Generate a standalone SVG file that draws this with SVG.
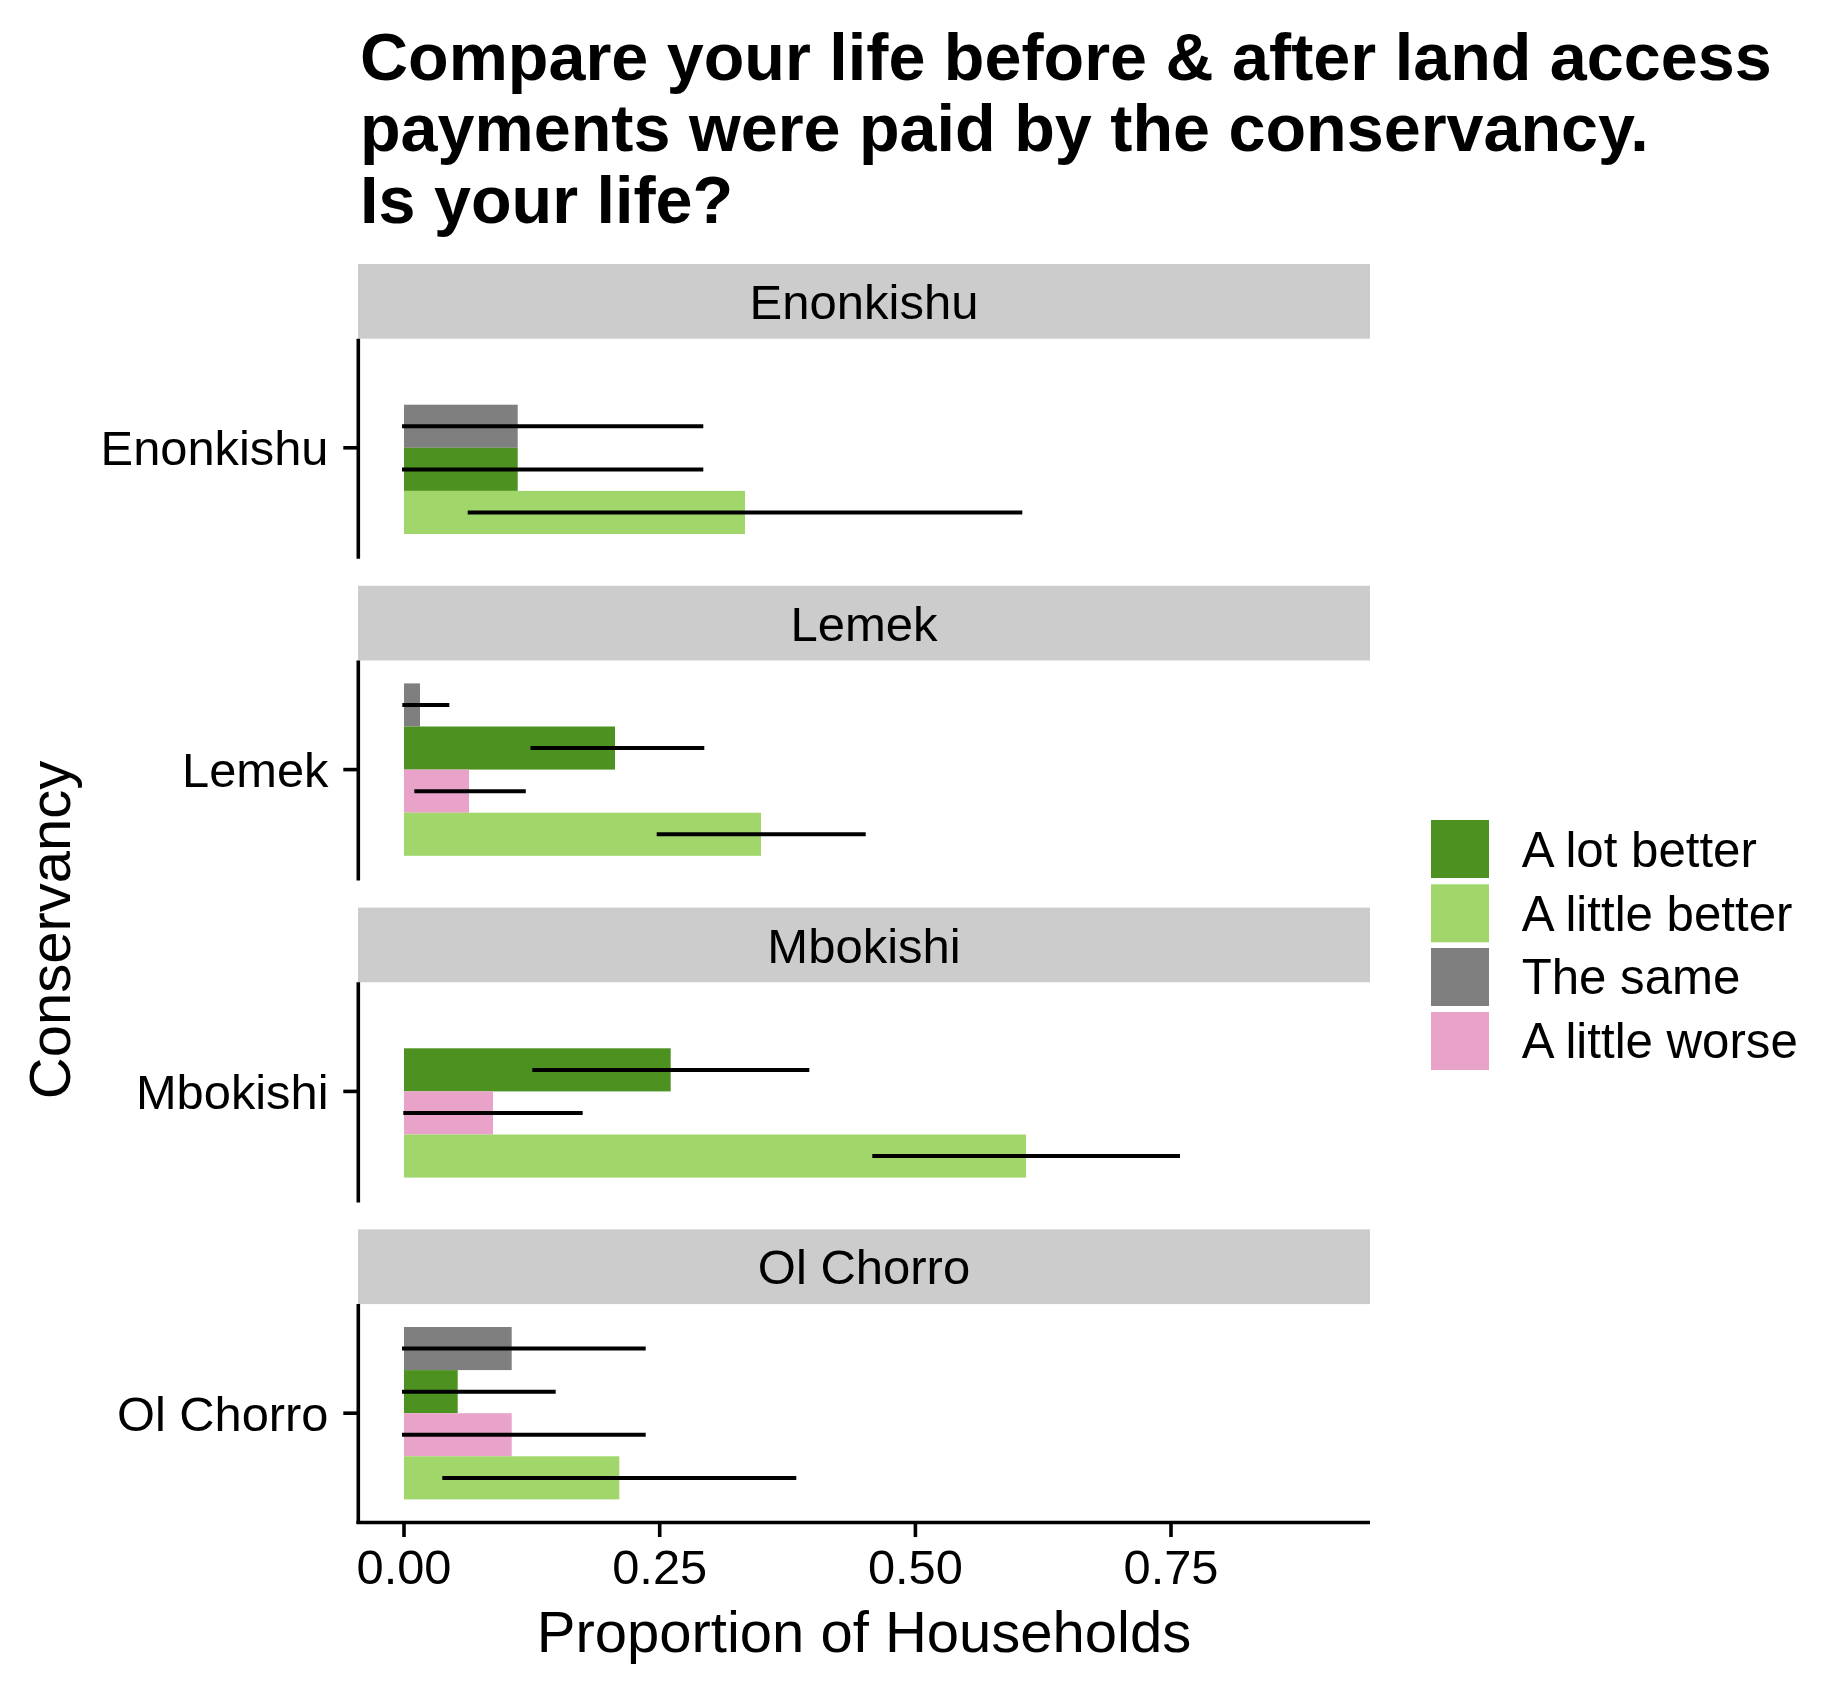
<svg xmlns="http://www.w3.org/2000/svg" width="1831" height="1693" viewBox="0 0 1831 1693">
<style>
text{font-family:"Liberation Sans",Arial,sans-serif;fill:#000}
.title{font-size:66.5px;font-weight:bold}
.ax{font-size:48.8px}
.strip-t{font-size:49px;text-anchor:middle}
.axt{font-size:58px;text-anchor:middle}
.lg{font-size:49.2px}
.strip{fill:#CCCCCC}
.gray{fill:#7F7F7F}
.dg{fill:#4D9221}
.lgn{fill:#A1D76A}
.pk{fill:#E9A3C9}
.axis{stroke:#000;stroke-width:3.6;fill:none}
.err{stroke:#000;stroke-width:4;fill:none}
</style>
<rect width="1831" height="1693" fill="#FFFFFF"/>
<g id="title">
<text class="title" x="360" y="79.5">Compare your life before &amp; after land access</text>
<text class="title" x="360" y="151">payments were paid by the conservancy.</text>
<text class="title" x="360" y="222.5">Is your life?</text>
</g>
<g id="panel-enonkishu">
<rect class="strip" x="358" y="264" width="1012" height="74.7"/>
<text class="strip-t" x="864" y="319">Enonkishu</text>
<rect class="gray" x="404" y="404.7" width="113.7" height="43.1"/>
<rect class="dg" x="404" y="447.8" width="113.7" height="43.1"/>
<rect class="lgn" x="404" y="490.9" width="341" height="43.1"/>
<line class="axis" x1="358.3" y1="338.7" x2="358.3" y2="558.8"/>
<line class="axis" x1="343.3" y1="447.8" x2="358.3" y2="447.8"/>
<text class="ax" x="328.5" y="465.3" text-anchor="end">Enonkishu</text>
</g>
<g id="panel-lemek">
<rect class="strip" x="358" y="585.8" width="1012" height="74.7"/>
<text class="strip-t" x="864" y="640.8">Lemek</text>
<rect class="gray" x="404" y="683.4" width="16" height="43.1"/>
<rect class="dg" x="404" y="726.5" width="211" height="43.1"/>
<rect class="pk" x="404" y="769.6" width="65" height="43.1"/>
<rect class="lgn" x="404" y="812.7" width="357" height="43.1"/>
<line class="axis" x1="358.3" y1="660.5" x2="358.3" y2="880.6"/>
<line class="axis" x1="343.3" y1="769.6" x2="358.3" y2="769.6"/>
<text class="ax" x="328.5" y="787.1" text-anchor="end">Lemek</text>
</g>
<g id="panel-mbokishi">
<rect class="strip" x="358" y="907.6" width="1012" height="74.7"/>
<text class="strip-t" x="864" y="962.6">Mbokishi</text>
<rect class="dg" x="404" y="1048.3" width="266.7" height="43.1"/>
<rect class="pk" x="404" y="1091.4" width="89" height="43.1"/>
<rect class="lgn" x="404" y="1134.5" width="622" height="43.1"/>
<line class="axis" x1="358.3" y1="982.3" x2="358.3" y2="1202.4"/>
<line class="axis" x1="343.3" y1="1091.4" x2="358.3" y2="1091.4"/>
<text class="ax" x="328.5" y="1108.9" text-anchor="end">Mbokishi</text>
</g>
<g id="panel-olchorro">
<rect class="strip" x="358" y="1229.4" width="1012" height="74.7"/>
<text class="strip-t" x="864" y="1284.4">Ol Chorro</text>
<rect class="gray" x="404" y="1327" width="107.7" height="43.1"/>
<rect class="dg" x="404" y="1370.1" width="53.7" height="43.1"/>
<rect class="pk" x="404" y="1413.2" width="107.7" height="43.1"/>
<rect class="lgn" x="404" y="1456.3" width="215.3" height="43.1"/>
<line class="axis" x1="358.3" y1="1304.1" x2="358.3" y2="1524"/>
<line class="axis" x1="343.3" y1="1413.2" x2="358.3" y2="1413.2"/>
<text class="ax" x="328.5" y="1430.7" text-anchor="end">Ol Chorro</text>
</g>
<g id="connectors">
<line class="err" x1="402" y1="426.3" x2="703.3" y2="426.3"/>
<line class="err" x1="402" y1="469.4" x2="703.3" y2="469.4"/>
<line class="err" x1="467.7" y1="512.5" x2="1022.3" y2="512.5"/>
<line class="err" x1="402.3" y1="705" x2="449.3" y2="705"/>
<line class="err" x1="530.5" y1="748.1" x2="704.3" y2="748.1"/>
<line class="err" x1="414.3" y1="791.2" x2="525.8" y2="791.2"/>
<line class="err" x1="656.7" y1="834.3" x2="865.7" y2="834.3"/>
<line class="err" x1="532.3" y1="1069.9" x2="809.3" y2="1069.9"/>
<line class="err" x1="403.3" y1="1113" x2="582.7" y2="1113"/>
<line class="err" x1="872.3" y1="1156.1" x2="1180" y2="1156.1"/>
<line class="err" x1="402" y1="1348.6" x2="645.7" y2="1348.6"/>
<line class="err" x1="402" y1="1391.7" x2="555.7" y2="1391.7"/>
<line class="err" x1="402" y1="1434.8" x2="645.7" y2="1434.8"/>
<line class="err" x1="442.3" y1="1477.9" x2="796.3" y2="1477.9"/>
</g>
<g id="x-axis">
<line class="axis" x1="356.5" y1="1522.5" x2="1370" y2="1522.5"/>
<line class="axis" x1="404" y1="1522.5" x2="404" y2="1537"/>
<line class="axis" x1="659.7" y1="1522.5" x2="659.7" y2="1537"/>
<line class="axis" x1="915.4" y1="1522.5" x2="915.4" y2="1537"/>
<line class="axis" x1="1171" y1="1522.5" x2="1171" y2="1537"/>
<text class="ax" x="404" y="1584.3" text-anchor="middle">0.00</text>
<text class="ax" x="659.7" y="1584.3" text-anchor="middle">0.25</text>
<text class="ax" x="915.4" y="1584.3" text-anchor="middle">0.50</text>
<text class="ax" x="1171" y="1584.3" text-anchor="middle">0.75</text>
<text class="axt" x="864" y="1652.3">Proportion of Households</text>
</g>
<g id="y-axis-title">
<text class="axt" transform="translate(70,930) rotate(-90)" x="0" y="0">Conservancy</text>
</g>
<g id="legend">
<rect class="dg" x="1431" y="820" width="58" height="58"/>
<rect class="lgn" x="1431" y="884.3" width="58" height="58"/>
<rect class="gray" x="1431" y="948" width="58" height="58"/>
<rect class="pk" x="1431" y="1012" width="58" height="58"/>
<text class="lg" x="1521.7" y="867.3">A lot better</text>
<text class="lg" x="1521.7" y="930.7">A little better</text>
<text class="lg" x="1521.7" y="994.3">The same</text>
<text class="lg" x="1521.7" y="1058.3">A little worse</text>
</g>
</svg>
